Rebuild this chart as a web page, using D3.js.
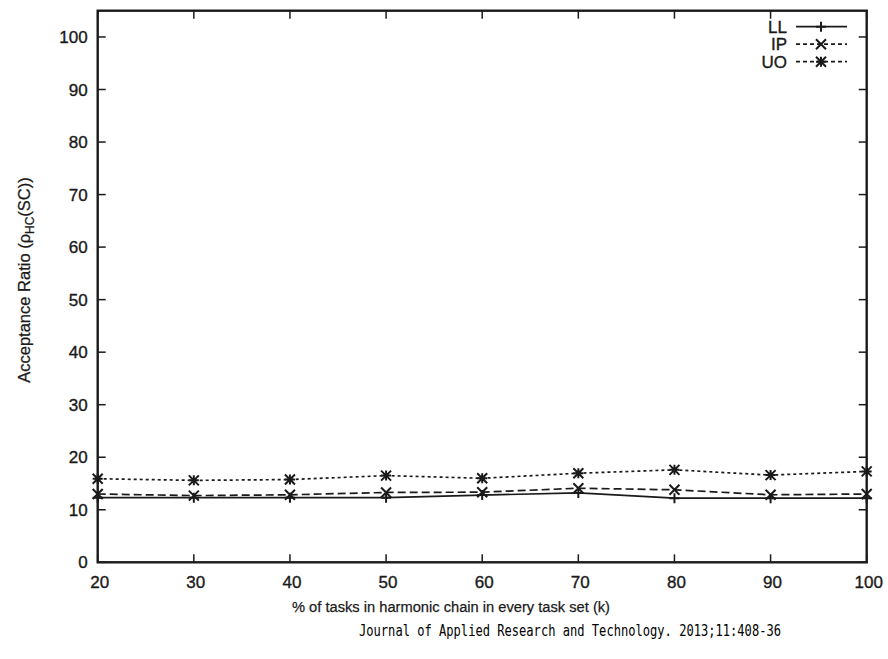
<!DOCTYPE html>
<html><head><meta charset="utf-8">
<script src="https://cdn.jsdelivr.net/npm/d3@7/dist/d3.min.js"></script>
<style>body{margin:0;background:#fff}svg{display:block}</style>
</head><body>
<script>
const xValues = [20,30,40,50,60,70,80,90,100];
const llValues = [12.3,12.3,12.3,12.3,12.8,13.2,12.2,12.2,12.2];
const ipValues = [13.0,12.7,12.85,13.3,13.35,14.1,13.8,12.85,13.0];
const uoValues = [15.9,15.6,15.75,16.5,16.0,16.95,17.6,16.6,17.3];
const xTicks = [20,30,40,50,60,70,80,90,100];
const yTicks = [0,10,20,30,40,50,60,70,80,90,100];
const seriesNames = ["LL","IP","UO"];

const W=888,H=659;
const svg=d3.select("body").append("svg").attr("width",W).attr("height",H);
const L=97.7,R=866.7,T=10.7,B=562.3;
const x=d3.scaleLinear().domain([20,100]).range([L,R]);
const y=d3.scaleLinear().domain([0,105]).range([B,T]);
const ink="#1a1a1a";
const font="'Liberation Sans', Arial, Helvetica, sans-serif";

// ticks (inward, mirrored)
const tk=8;
const g=svg.append("g").attr("stroke",ink).attr("stroke-width",1.5);
yTicks.forEach(v=>{
  g.append("line").attr("x1",L).attr("x2",L+tk).attr("y1",y(v)).attr("y2",y(v));
  g.append("line").attr("x1",R).attr("x2",R-tk).attr("y1",y(v)).attr("y2",y(v));
});
xTicks.forEach(v=>{
  g.append("line").attr("x1",x(v)).attr("x2",x(v)).attr("y1",B).attr("y2",B-tk);
  g.append("line").attr("x1",x(v)).attr("x2",x(v)).attr("y1",T).attr("y2",T+tk);
});

// tick labels
svg.append("g").selectAll("text").data(yTicks).join("text")
  .attr("x",L-10).attr("y",d=>y(d)).attr("dy","0.36em").attr("text-anchor","end")
  .attr("font-family",font).attr("font-size",17).attr("fill",ink)
  .attr("stroke",ink).attr("stroke-width",0.35).text(d=>d);
svg.append("g").selectAll("text").data(xTicks).join("text")
  .attr("x",d=>x(d)+2).attr("y",B+20).attr("dy","0.36em").attr("text-anchor","middle")
  .attr("font-family",font).attr("font-size",17).attr("fill",ink)
  .attr("stroke",ink).attr("stroke-width",0.35).text(d=>d);

// series
const series=[
  {name:seriesNames[0],vals:llValues,dash:null,marker:"plus"},
  {name:seriesNames[1],vals:ipValues,dash:"8,4",marker:"cross"},
  {name:seriesNames[2],vals:uoValues,dash:"3,3",marker:"star"}
];
const line=d3.line().x(d=>x(d[0])).y(d=>y(d[1]));
const ms=5;
function markerPath(type,cx,cy){
  const p=d3.path();
  if(type==="plus"||type==="star"){p.moveTo(cx-ms,cy);p.lineTo(cx+ms,cy);p.moveTo(cx,cy-ms);p.lineTo(cx,cy+ms);}
  if(type==="cross"||type==="star"){p.moveTo(cx-ms,cy-ms);p.lineTo(cx+ms,cy+ms);p.moveTo(cx-ms,cy+ms);p.lineTo(cx+ms,cy-ms);}
  return p.toString();
}
series.forEach(s=>{
  const pts=xValues.map((v,i)=>[v,s.vals[i]]);
  svg.append("path").attr("d",line(pts)).attr("fill","none").attr("stroke",ink)
    .attr("stroke-width",1.7).attr("stroke-dasharray",s.dash);
  svg.append("g").selectAll("path").data(pts).join("path")
    .attr("d",d=>markerPath(s.marker,x(d[0]),y(d[1])))
    .attr("stroke",ink).attr("stroke-width",2).attr("fill","none");
});

// legend
series.forEach((s,i)=>{
  const ly=26.7+i*17.5;
  svg.append("text").attr("x",787).attr("y",ly).attr("dy","0.36em").attr("text-anchor","end")
    .attr("font-family",font).attr("font-size",17).attr("fill",ink)
    .attr("stroke",ink).attr("stroke-width",0.35).text(s.name);
  svg.append("line").attr("x1",796).attr("x2",847).attr("y1",ly).attr("y2",ly)
    .attr("stroke",ink).attr("stroke-width",1.7).attr("stroke-dasharray",s.dash?"4,3":null);
  svg.append("path").attr("d",markerPath(s.marker,821,ly)).attr("stroke",ink).attr("stroke-width",2);
});

// frame
svg.append("rect").attr("x",L).attr("y",T).attr("width",R-L).attr("height",B-T)
  .attr("fill","none").attr("stroke",ink).attr("stroke-width",2.4);

// axis titles
svg.append("text").attr("x",451).attr("y",606).attr("dy","0.36em").attr("text-anchor","middle")
  .attr("font-family",font).attr("font-size",15.5).attr("fill",ink)
  .attr("stroke",ink).attr("stroke-width",0.25)
  .attr("textLength",318).attr("lengthAdjust","spacingAndGlyphs")
  .text("% of tasks in harmonic chain in every task set (k)");
const yl=svg.append("text").attr("transform","translate(24,280) rotate(-90)")
  .attr("text-anchor","middle").attr("dy","0.36em")
  .attr("font-family",font).attr("font-size",16.5).attr("fill",ink)
  .attr("stroke",ink).attr("stroke-width",0.25);
yl.append("tspan").text("Acceptance Ratio (\u03C1");
yl.append("tspan").attr("font-size",12).attr("dy",4).text("HC");
yl.append("tspan").attr("dy",-4).text("(SC))");

// footer
svg.append("text").attr("transform","translate(359,636) scale(1,1.3)")
  .attr("font-family","'DejaVu Sans Mono', monospace").attr("font-size",12.1).attr("fill","#000")
  .text("Journal of Applied Research and Technology. 2013;11:408-36");
</script>
</body></html>
